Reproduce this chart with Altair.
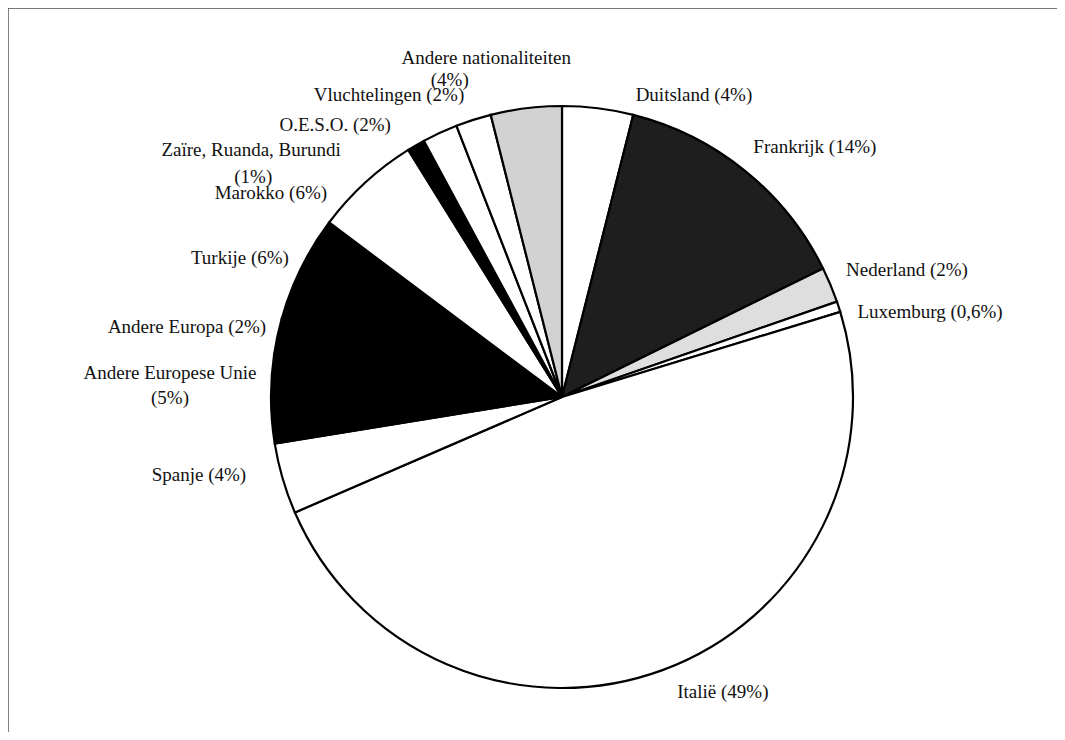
import math
import altair as alt
import pandas as pd

# ---- data ----
categories = ["Duitsland", "Frankrijk", "Nederland", "Luxemburg", "Italië", "Spanje",
              "Andere Europese Unie", "Andere Europa", "Turkije", "Marokko",
              "Zaïre, Ruanda, Burundi", "O.E.S.O.", "Vluchtelingen", "Andere nationaliteiten"]
shares = [4, 14, 2, 0.6, 49, 4, 5, 2, 6, 6, 1, 2, 2, 4]

# ---- styling ----
fills = ["#ffffff", "#1e1e1e", "#dedede", "#ffffff", "#ffffff", "#ffffff",
         "#000000", "#000000", "#000000", "#ffffff",
         "#000000", "#ffffff", "#ffffff", "#d2d2d2"]

# label layout (polar, around the pie centre): angle in degrees clockwise from north, radius px
split_labels = {"Andere Europese Unie", "Zaïre, Ruanda, Burundi", "Andere nationaliteiten"}
label_angle = {
    "Duitsland": [23.6], "Frankrijk": [45.3], "Nederland": [69.8], "Luxemburg": [77.0],
    "Italië": [151.4], "Spanje": [257.9], "Andere Europese Unie": [273.5, 269.85],
    "Andere Europa": [280.6], "Turkije": [293.3], "Marokko": [305.0],
    "Zaïre, Ruanda, Burundi": [308.5, 305.5], "O.E.S.O.": [320.2], "Vluchtelingen": [330.2],
    "Andere nationaliteiten": [347.4, 340.5],
}
label_radius = {
    "Duitsland": [329.6], "Frankrijk": [355.7], "Nederland": [367.6], "Luxemburg": [377.7],
    "Italië": [336.1], "Spanje": [371.3], "Andere Europese Unie": [392.7, 392.0],
    "Andere Europa": [381.5], "Turkije": [350.7], "Marokko": [355.4],
    "Zaïre, Ruanda, Burundi": [397.2, 379.3], "O.E.S.O.": [354.3], "Vluchtelingen": [348.0],
    "Andere nationaliteiten": [347.4, 336.2],
}

CX, CY, R = 554, 389, 291
W, H = 1049, 724
FONT = "Liberation Serif"


def pct(v):
    s = ("%g" % v).replace(".", ",")
    return f"({s}%)"


slices = pd.DataFrame({"cat": categories, "share": shares, "fill": fills,
                       "order": list(range(len(categories)))})

rows = []
for c, v in zip(categories, shares):
    if c in split_labels:
        texts = [c, pct(v)]
    else:
        texts = [f"{c} {pct(v)}"]
    for t, a, r in zip(texts, label_angle[c], label_radius[c]):
        rows.append({"text": t, "angle": a, "radius": r})
labels = pd.DataFrame(rows)

pie = alt.Chart(slices).mark_arc(
    outerRadius=R, stroke="black", strokeWidth=2.2, x=CX, y=CY
).encode(
    theta=alt.Theta("share:Q", stack=True),
    color=alt.Color("fill:N", scale=None),
    order=alt.Order("order:Q"),
)

text = alt.Chart(labels).mark_text(
    x=CX, y=CY, font=FONT, fontSize=19, align="center", baseline="middle", color="#111111"
).encode(
    theta=alt.Theta("angle:Q", scale=alt.Scale(domain=[0, 360], range=[0, 2 * math.pi])),
    radius=alt.Radius("radius:Q", scale=None),
    text="text:N",
)

frame_df = pd.DataFrame({"k": [0]})
left_line = alt.Chart(frame_df).mark_rule(color="#444444", strokeWidth=1.2).encode(
    x=alt.value(0), y=alt.value(0), y2=alt.value(H)
)
top_line = alt.Chart(frame_df).mark_rule(color="#555555", strokeWidth=1.5).encode(
    x=alt.value(0), x2=alt.value(W), y=alt.value(0)
)

chart = alt.layer(pie, text, left_line, top_line).resolve_scale(
    theta="independent"
).properties(
    width=W, height=H, autosize=alt.AutoSizeParams(type="none"), padding=0
).configure_view(stroke=None).configure(background="white")

chart.save("out.html", embed_options={"renderer": "svg", "actions": False})
